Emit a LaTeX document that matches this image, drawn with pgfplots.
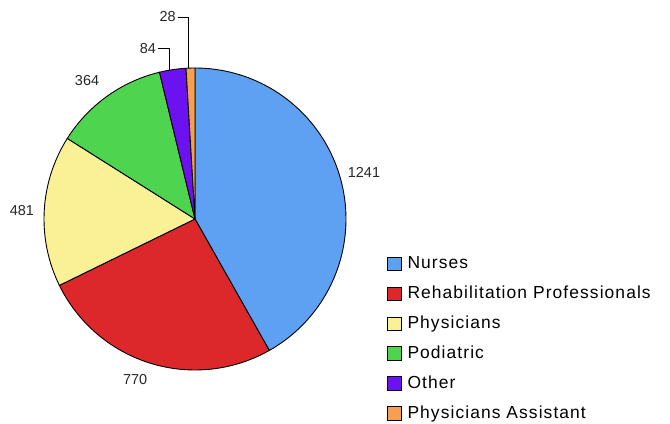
\documentclass[border=0pt]{standalone}
\usepackage{pgfplots}
\pgfplotsset{compat=1.18}
\usepackage{fontspec}
\setmainfont{Liberation Sans}
\newfontfamily\legfont[LetterSpace=6.2]{Liberation Sans}
\definecolor{cNurses}{RGB}{94,160,242}
\definecolor{cRehab}{RGB}{220,40,42}
\definecolor{cPhys}{RGB}{250,240,150}
\definecolor{cPod}{RGB}{78,212,78}
\definecolor{cOther}{RGB}{108,18,240}
\definecolor{cPA}{RGB}{245,160,80}
% data
\def\vA{1241}% Nurses
\def\vB{770}% Rehabilitation Professionals
\def\vC{481}% Physicians
\def\vD{364}% Podiatric
\def\vE{84}% Other
\def\vF{28}% Physicians Assistant
\pgfmathsetmacro{\tot}{\vA+\vB+\vC+\vD+\vE+\vF}
\pgfmathsetmacro{\aA}{90-360*(\vA/\tot)}
\pgfmathsetmacro{\aB}{\aA-360*(\vB/\tot)}
\pgfmathsetmacro{\aC}{\aB-360*(\vC/\tot)}
\pgfmathsetmacro{\aD}{\aC-360*(\vD/\tot)}
\pgfmathsetmacro{\aE}{\aD-360*(\vE/\tot)}
\pgfmathsetmacro{\aF}{\aE-360*(\vF/\tot)}
\begin{document}
\begin{tikzpicture}
\begin{axis}[
  scale only axis, width=670bp, height=424bp,
  xmin=-1.2914, xmax=3.1457, ymin=-1.3576, ymax=1.4503,
  hide axis, clip=false,
  legend style={at={(axis cs:1.2715,-0.2450)}, anchor=north west,
    draw=none, fill=none, inner sep=0pt, row sep=13.9bp, column sep=5.5bp,
    font=\legfont\fontsize{17.5}{19}\selectfont,
    nodes={inner sep=0pt, text height=12.5bp, text depth=3.5bp}},
  legend cell align=left,
  legend image code/.code={\draw[#1, line width=0.8bp] (0bp,-6.5bp) rectangle (14bp,7bp);},
  every axis plot/.append style={line width=0.9bp, draw=black},
]
\path (rel axis cs:0,0) rectangle (rel axis cs:1,1);
\addplot[fill=cNurses, domain=\aA:90, samples=90, variable=\t] ({cos(\t)},{sin(\t)}) -- (axis cs:0,0) -- cycle;
\addlegendentry{Nurses}
\addplot[fill=cRehab, domain=\aB:\aA, samples=60, variable=\t] ({cos(\t)},{sin(\t)}) -- (axis cs:0,0) -- cycle;
\addlegendentry{Rehabilitation Professionals}
\addplot[fill=cPhys, domain=\aC:\aB, samples=40, variable=\t] ({cos(\t)},{sin(\t)}) -- (axis cs:0,0) -- cycle;
\addlegendentry{Physicians}
\addplot[fill=cPod, domain=\aD:\aC, samples=30, variable=\t] ({cos(\t)},{sin(\t)}) -- (axis cs:0,0) -- cycle;
\addlegendentry{Podiatric}
\addplot[fill=cOther, domain=\aE:\aD, samples=10, variable=\t] ({cos(\t)},{sin(\t)}) -- (axis cs:0,0) -- cycle;
\addlegendentry{Other}
\addplot[fill=cPA, domain=\aF:\aE, samples=5, variable=\t] ({cos(\t)},{sin(\t)}) -- (axis cs:0,0) -- cycle;
\addlegendentry{Physicians Assistant}
% value labels
\begin{scope}[every node/.style={font=\fontsize{14.5}{16}\selectfont, text=black!85, inner sep=0pt}]
\node at (axis cs:1.119,0.305) {1241};
\node at (axis cs:-0.397,-1.060) {770};
\node at (axis cs:-1.146,0.053) {481};
\node at (axis cs:-0.715,0.914) {364};
\node[anchor=east] at (axis cs:-0.258,1.132) {84};
\node[anchor=east] at (axis cs:-0.127,1.338) {28};
\end{scope}
\draw[line width=0.9bp] (axis cs:-0.245,1.132) -- (axis cs:-0.166,1.132) -- (axis cs:-0.166,0.986);
\draw[line width=0.9bp] (axis cs:-0.115,1.338) -- (axis cs:-0.046,1.338) -- (axis cs:-0.046,0.999);
\end{axis}
\end{tikzpicture}
\end{document}
